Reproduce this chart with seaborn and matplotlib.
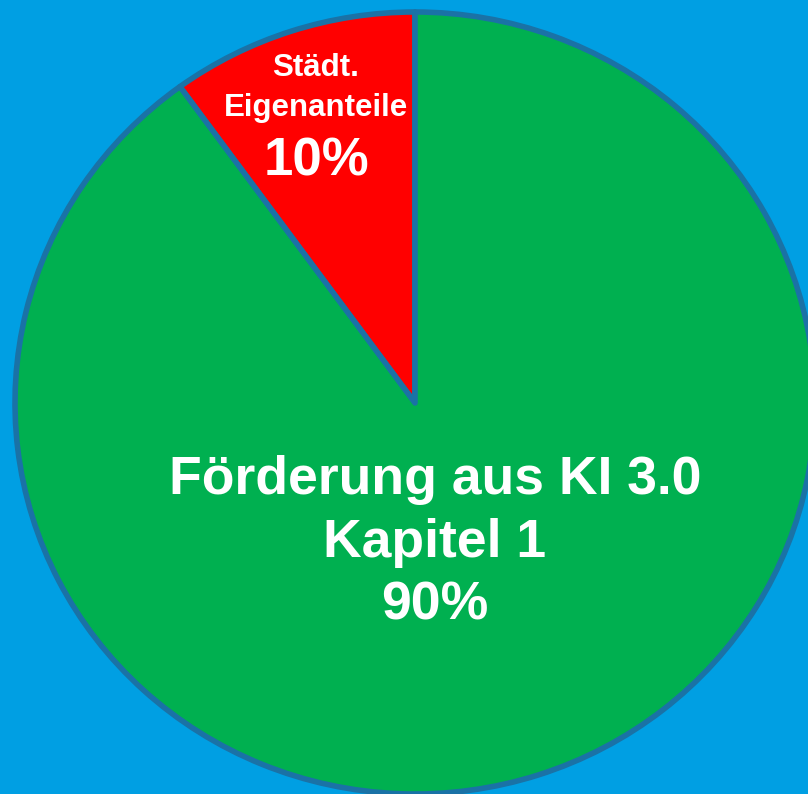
import matplotlib
matplotlib.use('Agg')
import matplotlib.pyplot as plt
import seaborn as sns

# Data
labels = ['Städt.\nEigenanteile', 'Förderung aus KI 3.0\nKapitel 1']
shares = [10, 90]
colors = ['#FF0000', '#00B050']

sns.set_theme(style='white')
plt.rcParams['font.family'] = ['Liberation Sans', 'DejaVu Sans']

fig = plt.figure(figsize=(8.08, 7.94), dpi=100)
fig.patch.set_facecolor('#009FE3')
ax = fig.add_axes([0, 0, 1, 1])
ax.set_facecolor('#009FE3')

ax.pie(shares, colors=colors, startangle=90, counterclock=True,
       wedgeprops=dict(edgecolor='#1A72A6', linewidth=4, joinstyle='round'))

# pie is a bit wider than tall and cut off on the right and bottom
ax.set_aspect('auto')
ax.set_xlim(-415 / 400, (808 - 415) / 400)
ax.set_ylim(-(794 - 403) / 391, 403 / 391)
ax.axis('off')

# Labels
fig.text(316 / 808, 1 - 88 / 794, labels[0], ha='center', va='center',
         color='white', fontsize=22.5, fontweight='bold', linespacing=1.4)
fig.text(316 / 808, 1 - 161 / 794, f'{shares[0]}%', ha='center', va='center',
         color='white', fontsize=38, fontweight='bold')
fig.text(435 / 808, 1 - 543 / 794, labels[1] + f'\n{shares[1]}%', ha='center',
         va='center', color='white', fontsize=38.5, fontweight='bold',
         linespacing=1.33)

fig.savefig('out.png', dpi=100, facecolor=fig.get_facecolor())
